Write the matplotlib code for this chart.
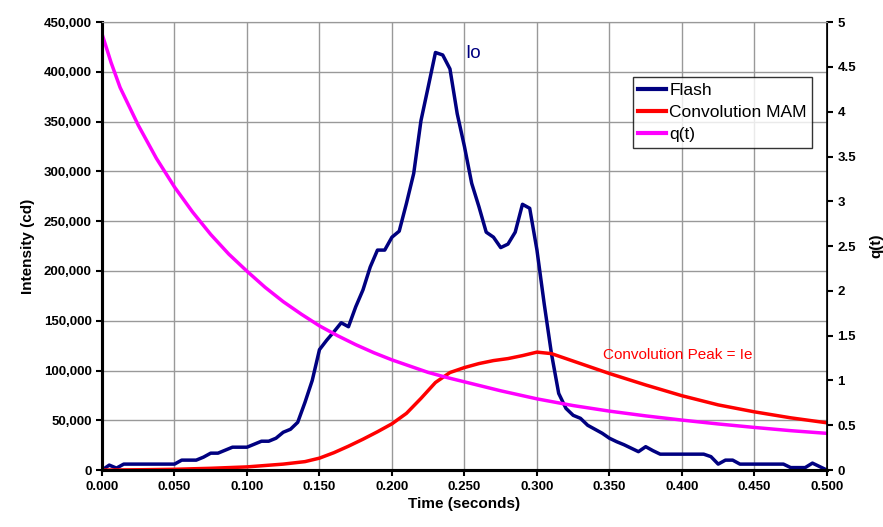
import numpy as np
import matplotlib.pyplot as plt
from matplotlib.ticker import FuncFormatter, MultipleLocator

plt.rcParams['font.family'] = ['Liberation Sans', 'DejaVu Sans']

# Flash measurement, sampled every 5 ms
flash_t = np.round(np.arange(0, 0.5001, 0.005), 3)
flash_v = [0, 5000, 2000, 6000, 6000, 6000, 6000, 6000, 6000, 6000,
           6000, 10000, 10000, 10000, 13000, 17000, 17000, 20000, 23000, 23000,
           23000, 26000, 29000, 29000, 32000, 38000, 41000, 48000, 68000, 90000,
           121000, 130500, 139000, 148000, 144000, 164000, 181000, 204000, 221000, 221000,
           234000, 240000, 268000, 298000, 351000, 385000, 419500, 417000, 403000, 358000,
           325000, 288000, 264500, 239000, 234000, 223500, 227000, 239000, 267000, 263000,
           221000, 167000, 117000, 77000, 62000, 55000, 52000, 45000, 41000, 37000,
           32000, 28500, 25500, 22000, 18500, 23500, 19500, 16000, 16000, 16000,
           16000, 16000, 16000, 16000, 13500, 6000, 10000, 10000, 6000, 6000,
           6000, 6000, 6000, 6000, 6000, 2500, 2500, 2500, 7000, 3500,
           0]

# Convolution MAM
conv_t = [0, 0.025, 0.05, 0.075, 0.1, 0.125, 0.14, 0.15, 0.16, 0.17, 0.18, 0.19,
          0.2, 0.21, 0.22, 0.23, 0.24, 0.25, 0.26, 0.27, 0.28, 0.29, 0.3, 0.31,
          0.32, 0.33, 0.34, 0.35, 0.375, 0.4, 0.425, 0.45, 0.475, 0.5]
conv_v = [0, 300, 800, 1800, 3200, 6000, 8500, 12000, 17500, 24000, 31000, 38500,
          46500, 57000, 72000, 88000, 98000, 103000, 107000, 110000, 112000, 115000, 118500, 117000,
          112000, 107000, 102000, 97000, 85500, 74700, 65500, 58500, 52500, 47500]

# q(t), right axis
q_t = [0, 0.00625, 0.0125, 0.025, 0.0375, 0.05, 0.0625, 0.075, 0.0875, 0.1, 0.1125,
       0.125, 0.1375, 0.15, 0.1625, 0.175, 0.1875, 0.2, 0.2125, 0.225, 0.2375, 0.25,
       0.275, 0.3, 0.325, 0.35, 0.375, 0.4, 0.425, 0.45, 0.475, 0.5]
q_v = [4.87, 4.55, 4.27, 3.85, 3.48, 3.16, 2.88, 2.63, 2.41, 2.22, 2.04,
       1.88, 1.74, 1.61, 1.50, 1.40, 1.31, 1.23, 1.16, 1.09, 1.035, 0.985,
       0.885, 0.795, 0.72, 0.658, 0.605, 0.558, 0.515, 0.476, 0.44, 0.41]

fig = plt.figure(figsize=(8.83, 5.27), dpi=100)
ax = fig.add_axes([0.1155, 0.108, 0.821, 0.850])
ax2 = ax.twinx()

l1, = ax.plot(flash_t, flash_v, color='#000080', lw=2.5, label='Flash')
l2, = ax.plot(conv_t, conv_v, color='#ff0000', lw=2.5, label='Convolution MAM')
l3, = ax2.plot(q_t, q_v, color='#ff00ff', lw=2.5, label='q(t)')

ax.set_xlim(0, 0.5)
ax.set_ylim(0, 450000)
ax2.set_ylim(0, 5)
ax.xaxis.set_major_locator(MultipleLocator(0.05))
ax.yaxis.set_major_locator(MultipleLocator(50000))
ax2.yaxis.set_major_locator(MultipleLocator(0.5))
ax.xaxis.set_major_formatter(FuncFormatter(lambda v, p: f'{v:.3f}'))
ax.yaxis.set_major_formatter(FuncFormatter(lambda v, p: f'{v:,.0f}'))
ax2.yaxis.set_major_formatter(FuncFormatter(lambda v, p: f'{v:g}'))

ax.grid(True, color='#999999', lw=1)
for a in (ax, ax2):
    a.tick_params(labelsize=9.5, width=1.5, length=4)
    for lab in a.get_xticklabels() + a.get_yticklabels():
        lab.set_fontweight('bold')
ax.spines['top'].set_color('#999999')
for s in ('left', 'bottom'):
    ax.spines[s].set_linewidth(2.2)
ax2.spines['left'].set_linewidth(2.2)
ax2.spines['bottom'].set_linewidth(2.2)
ax2.spines['top'].set_color('#999999')
ax2.spines['right'].set_linewidth(1.2)

ax.set_xlabel('Time (seconds)', fontsize=11, fontweight='bold', labelpad=3)
ax.set_ylabel('Intensity (cd)', fontsize=11, fontweight='bold', labelpad=6)
ax2.set_ylabel('q(t)', fontsize=11, fontweight='bold', labelpad=10)

ax.text(0.2505, 414000, 'Io', color='#000080', fontsize=13.5)
ax.text(0.3455, 112000, 'Convolution Peak = Ie', color='#ff0000', fontsize=11)

leg = ax2.legend(handles=[l1, l2, l3], loc='upper left', bbox_to_anchor=(0.7324, 0.877),
                 frameon=True, fancybox=False, edgecolor='black', fontsize=12.5,
                 handlelength=1.6, handletextpad=0.2, borderpad=0.3, labelspacing=0.42,
                 borderaxespad=0)
leg.get_frame().set_linewidth(1)
for h in leg.get_lines():
    h.set_linewidth(3)

fig.savefig('out.png', dpi=100)
